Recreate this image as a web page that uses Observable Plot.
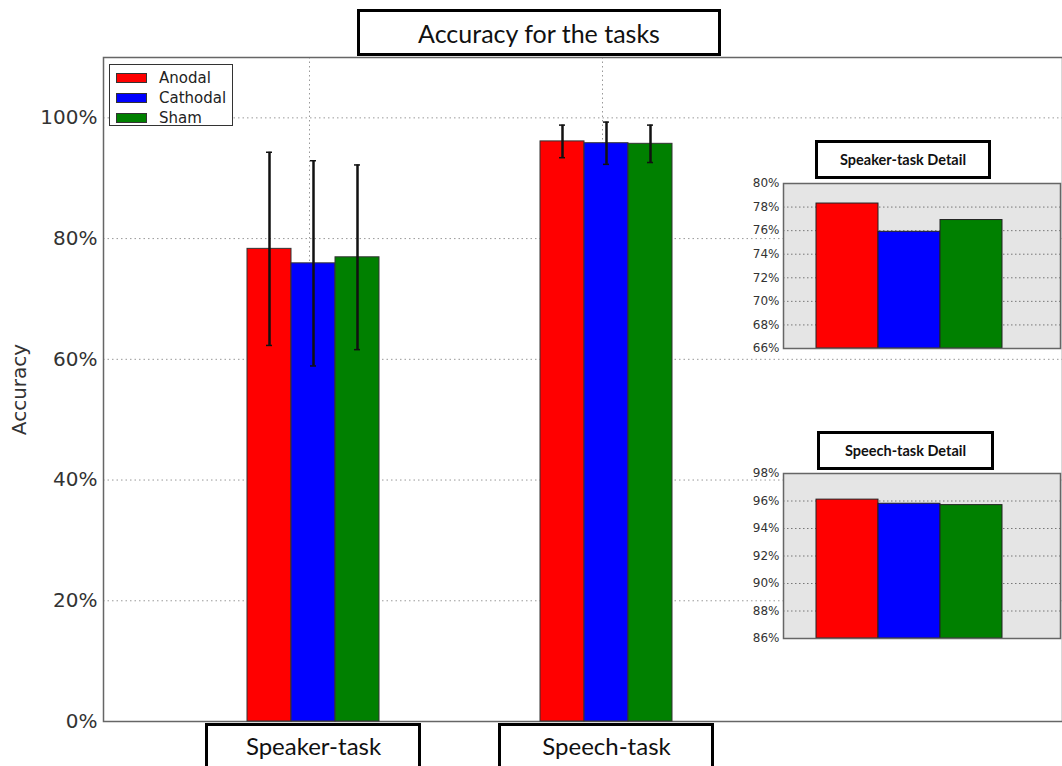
<!DOCTYPE html>
<html><head><meta charset="utf-8">
<script src="https://cdn.jsdelivr.net/npm/d3@7"></script>
<script src="https://cdn.jsdelivr.net/npm/@observablehq/plot@0.6"></script>
<style>
body{margin:0;background:#fff;}
#wrap{position:relative;width:1062px;height:766px;overflow:hidden;background:#fff;}
#wrap svg{position:absolute;left:0;top:0;}
.box{position:absolute;border:3px solid #000;box-sizing:border-box;display:flex;align-items:center;justify-content:center;font-family:Lato,"Open Sans",sans-serif;color:#111;white-space:nowrap;}
#legend{position:absolute;left:109px;top:64px;width:124px;height:62px;box-sizing:border-box;border:1px solid #333;background:#fff;font-family:"DejaVu Sans",sans-serif;font-size:15px;color:#222;padding-top:3px;}
#legend .it{display:flex;align-items:center;height:20px;}
#legend .sw{width:31px;height:10px;margin-left:6px;margin-right:12px;border:1px solid #333;box-sizing:border-box;}
</style></head><body><div id="wrap"></div>
<script>
// ---- data ----
const tasks = ["Speaker-task", "Speech-task"];
const conditions = ["Anodal", "Cathodal", "Sham"];
const colors = ["#ff0000", "#0000ff", "#008000"];
const speakerMeans = [78.3, 75.9, 76.9];
const speakerErrors = [16.0, 17.0, 15.3];
const speechMeans = [96.1, 95.8, 95.7];
const speechErrors = [2.7, 3.5, 3.1];
const mainTicks = [0, 20, 40, 60, 80, 100];
const speakerDetailTicks = [66, 68, 70, 72, 74, 76, 78, 80];
const speechDetailTicks = [86, 88, 90, 92, 94, 96, 98];
const titleText = "Accuracy for the tasks";
const yLabel = "Accuracy";
const detailTitles = ["Speaker-task Detail", "Speech-task Detail"];

const rows = [];
tasks.forEach((t, i) => conditions.forEach((c, j) => {
  const m = i ? speechMeans[j] : speakerMeans[j];
  const e = i ? speechErrors[j] : speakerErrors[j];
  rows.push({task: t, cond: c, value: m, lo: m - e, hi: m + e});
}));

const wrap = document.getElementById("wrap");
const W = 1062, H = 766, ML = 103, MR = 0, MT = 57, MB = 45;
const bandOpts = {type: "band", domain: tasks, paddingInner: 0.551, paddingOuter: 0.9065, align: 0.27};
const dotted = {stroke: "#999", strokeOpacity: 1, strokeDasharray: "1.5,3"};

// underlay: frame, grid, axes
const under = Plot.plot({
  width: W, height: H, marginLeft: ML, marginRight: MR, marginTop: MT, marginBottom: MB,
  style: {background: "transparent", fontFamily: "DejaVu Sans", color: "#333"},
  x: {...bandOpts},
  y: {domain: [0, 110]},
  marks: [
    Plot.gridY(mainTicks.slice(1), dotted),
    Plot.gridX(tasks, {...dotted, dx: -4}),
    Plot.frame({stroke: "#666", strokeWidth: 1.5}),
    Plot.axisY(mainTicks, {tickFormat: d => d + "%", fontSize: 20, tickSize: 0, tickPadding: 6,
      label: yLabel, labelAnchor: "center", labelOffset: 92, labelArrow: "none"}),
    Plot.axisX(tasks, {fontSize: 24, fontFamily: "Lato", fill: "#111", tickSize: 0, tickPadding: 16, label: null})
  ]
});
wrap.appendChild(under);

// overlay: bars and error bars (faceted)
const over = Plot.plot({
  width: W, height: H, marginLeft: ML, marginRight: MR, marginTop: MT, marginBottom: MB,
  style: {background: "transparent"},
  fx: {...bandOpts, axis: null, label: null},
  x: {domain: conditions, padding: 0, axis: null},
  y: {domain: [0, 110], axis: null},
  color: {domain: conditions, range: colors},
  marks: [
    Plot.barY(rows, {fx: "task", x: "cond", y: "value", fill: "cond", stroke: "#333", strokeWidth: 1}),
    Plot.ruleX(rows, {fx: "task", x: "cond", y1: "lo", y2: "hi", stroke: "#111", strokeWidth: 2.5}),
    Plot.tickY(rows, {fx: "task", x: "cond", y: "hi", stroke: "#111", strokeWidth: 1.5, insetLeft: 19, insetRight: 19}),
    Plot.tickY(rows, {fx: "task", x: "cond", y: "lo", stroke: "#111", strokeWidth: 1.5, insetLeft: 19, insetRight: 19})
  ]
});
wrap.appendChild(over);

// boxes around category labels, from the x scale
const xs = under.scale("x");
tasks.forEach(t => {
  const cx = xs.apply(t) + xs.bandwidth / 2;
  const b = document.createElement("div");
  b.className = "box";
  b.style.cssText = `left:${cx - 108}px;top:723px;width:216px;height:60px;`;
  wrap.appendChild(b);
});

// title
const tb = document.createElement("div");
tb.className = "box";
tb.style.cssText = "left:357px;top:9px;width:364px;height:47px;font-size:25px;background:#fff;";
tb.textContent = titleText;
wrap.appendChild(tb);

// legend
const lg = document.createElement("div");
lg.id = "legend";
conditions.forEach((c, i) => {
  const it = document.createElement("div");
  it.className = "it";
  it.innerHTML = `<div class="sw" style="background:${colors[i]}"></div><span>${c}</span>`;
  lg.appendChild(it);
});
wrap.appendChild(lg);

// detail insets
function inset(means, ticks, top, title, titleBox) {
  const p = Plot.plot({
    width: 324, height: 200, marginLeft: 45, marginRight: 2, marginTop: 12, marginBottom: 23,
    style: {background: "transparent", fontFamily: "DejaVu Sans", color: "#333"},
    x: {domain: conditions, paddingInner: 0, paddingOuter: 0.71, align: 0.36, axis: null},
    y: {domain: [ticks[0], ticks[ticks.length - 1]]},
    color: {domain: conditions, range: colors},
    marks: [
      Plot.frame({fill: "#e5e5e5"}),
      Plot.gridY(ticks, {stroke: "#777", strokeOpacity: 1, strokeDasharray: "1.5,2.5"}),
      Plot.barY(conditions, {x: d => d, y1: ticks[0], y2: (d, i) => means[i], fill: d => d, stroke: "#222", strokeWidth: 1}),
      Plot.frame({stroke: "#666", strokeWidth: 1.5}),
      Plot.axisY(ticks, {tickFormat: d => d + "%", fontSize: 12, tickSize: 0, tickPadding: 4, label: null})
    ]
  });
  p.style.left = "738px";
  p.style.top = top + "px";
  wrap.appendChild(p);
  const b = document.createElement("div");
  b.className = "box";
  b.style.cssText = `left:${titleBox[0]}px;top:${titleBox[1]}px;width:${titleBox[2]}px;height:${titleBox[3]}px;font-size:14.5px;font-weight:bold;background:#fff;`;
  b.textContent = title;
  wrap.appendChild(b);
}
inset(speakerMeans, speakerDetailTicks, 171, detailTitles[0], [815, 140, 176, 39]);
inset(speechMeans, speechDetailTicks, 461, detailTitles[1], [817, 431, 177, 39]);
</script></body></html>
